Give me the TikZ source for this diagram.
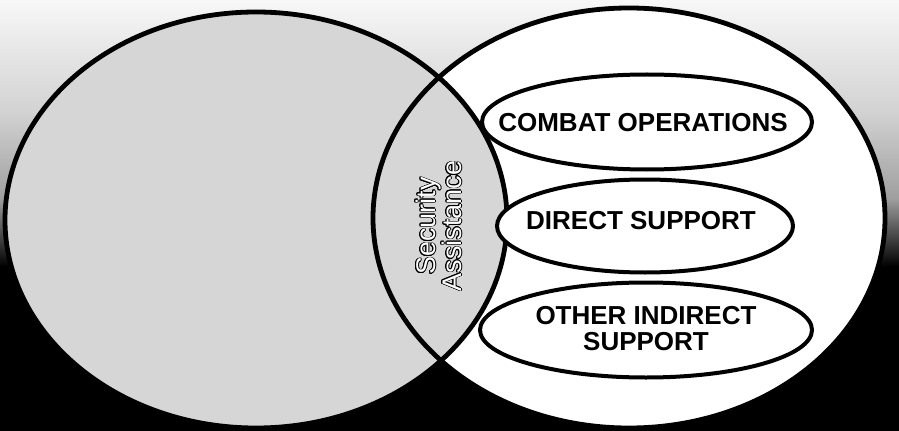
\documentclass[tikz,border=0pt]{standalone}
\usepackage{fontspec}
\setmainfont{Liberation Sans}
\usepackage{contour}
\contourlength{0.7pt}
\usetikzlibrary{shapes.geometric}
\definecolor{vennfill}{gray}{0.84}
\pgfdeclareverticalshading{bgfade}{100bp}{color(0bp)=(black); color(44bp)=(black);
  color(52bp)=(gray!75); color(62bp)=(gray!35); color(75bp)=(gray!6); color(100bp)=(gray!6)}
\tikzset{
  venn/.style={line width=4.8pt,draw=black},
  oval/.style={ellipse,draw=black,fill=white,line width=4pt,inner sep=0pt},
  ovaltxt/.style={font=\fontsize{26}{26}\selectfont\bfseries,align=center,text=black},
  sawords/.style={font=\fontsize{27}{26}\selectfont,align=center,text=white,rotate=90},
}

\begin{document}
\begin{tikzpicture}[x=1pt,y=-1pt]
  % Background
  \shade[shading=bgfade] (0,0) rectangle (899,430);
  % Circle centres
  \coordinate (lc) at (256,220);
  \coordinate (rc) at (629,218);
  % Fills
  \fill[vennfill] (lc) ellipse [x radius=251,y radius=208];
  \fill[white] (rc) ellipse [x radius=256,y radius=210];
  \begin{scope}
    \clip (lc) ellipse [x radius=251,y radius=208];
    \fill[vennfill] (rc) ellipse [x radius=256,y radius=210];
  \end{scope}
  % Outlines
  \draw[venn] (lc) ellipse [x radius=251,y radius=208];
  \draw[venn] (rc) ellipse [x radius=256,y radius=210];

  % Overlap label
  \node[sawords] (sa) at (439,226) {\contour{black}{Security}\\\contour{black}{Assistance}};

  % Ovals
  \node[oval,minimum width=330pt,minimum height=95pt] (combat) at (647,122) {};
  \node[oval,minimum width=296pt,minimum height=93pt] (direct) at (645,226) {};
  \node[oval,minimum width=332pt,minimum height=95pt] (indirect) at (646,330) {};
  \node[ovaltxt] (combattxt) at (643,123) {COMBAT OPERATIONS};
  \node[ovaltxt] (directtxt) at (641,221) {DIRECT SUPPORT};
  \node[ovaltxt] (indirecttxt) at (646,329) {OTHER INDIRECT\\SUPPORT};
\end{tikzpicture}
\end{document}
